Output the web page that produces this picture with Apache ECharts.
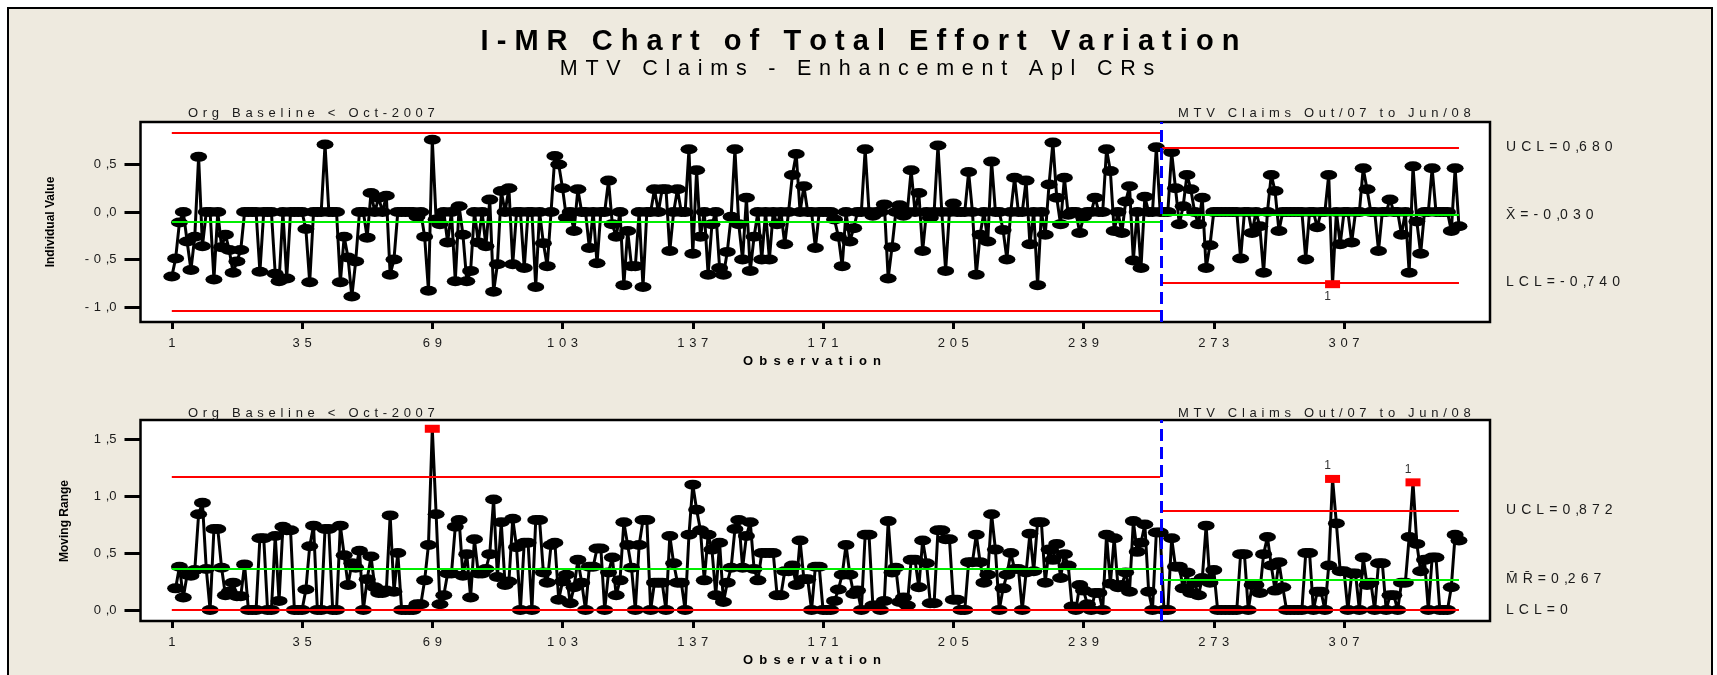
<!DOCTYPE html>
<html>
<head>
<meta charset="utf-8">
<script src="https://cdn.jsdelivr.net/npm/echarts@6/dist/echarts.min.js"></script>
<style>
  html, body { margin: 0; padding: 0; background: #ffffff; }
  #frame { position: absolute; left: 7px; top: 7px; width: 1702px; height: 680px;
           background: #eeeadf; border: 2px solid #000; }
  #chart { position: absolute; left: 0; top: 0; width: 1717px; height: 675px; }
</style>
</head>
<body>
<div id="frame"></div>
<div id="chart"></div>
<script>
// Individual observations, baseline stage (Org Baseline < Oct-2007)
const baselineValues = [
  -0.68, -0.49, -0.11, 0.00, -0.31, -0.61, -0.26, 0.58, -0.36, 0.00,
  0.00, -0.71, 0.00, -0.37, -0.24, -0.40, -0.64, -0.52, -0.40, 0.00,
  0.00, 0.00, 0.00, -0.63, 0.00, 0.00, 0.00, -0.65, -0.73, 0.00,
  -0.70, 0.00, 0.00, 0.00, 0.00, -0.18, -0.74, 0.00, 0.00, 0.00,
  0.71, 0.00, 0.00, 0.00, -0.74, -0.26, -0.48, -0.89, -0.52, 0.00,
  0.00, -0.27, 0.20, 0.00, 0.15, 0.00, 0.17, -0.66, -0.50, 0.00,
  0.00, 0.00, 0.00, 0.00, -0.05, 0.00, -0.26, -0.83, 0.76, -0.08,
  -0.13, 0.00, -0.32, 0.00, -0.73, 0.06, -0.24, -0.73, -0.62, 0.00,
  -0.32, 0.00, -0.36, 0.13, -0.84, -0.55, 0.22, 0.00, 0.25, -0.55,
  0.00, 0.00, -0.59, 0.00, 0.00, -0.79, 0.00, -0.33, -0.57, 0.00,
  0.59, 0.50, 0.25, -0.06, 0.00, -0.20, 0.24, 0.00, 0.00, -0.38,
  0.00, -0.54, 0.00, 0.00, 0.33, -0.13, -0.26, 0.00, -0.77, -0.20,
  -0.57, -0.57, 0.00, -0.79, 0.00, 0.00, 0.24, 0.00, 0.24, 0.24,
  -0.41, 0.00, 0.24, 0.00, 0.00, 0.66, -0.44, 0.44, -0.26, 0.00,
  -0.66, -0.13, 0.00, -0.59, -0.66, -0.42, -0.05, 0.66, -0.13, -0.50,
  0.15, -0.62, -0.26, 0.00, -0.50, 0.00, -0.50, 0.00, -0.13, 0.00,
  -0.34, 0.00, 0.39, 0.61, 0.00, 0.27, 0.00, 0.00, -0.38, 0.00,
  0.00, 0.00, 0.00, -0.08, -0.26, -0.57, 0.00, -0.31, -0.17, 0.00,
  0.00, 0.66, 0.00, -0.04, 0.00, 0.00, 0.08, -0.70, -0.37, 0.00,
  0.07, -0.04, 0.00, 0.44, 0.00, 0.20, -0.41, 0.00, -0.06, 0.00,
  0.70, 0.00, -0.62, 0.00, 0.09, 0.00, 0.00, 0.00, 0.42, 0.00,
  -0.66, -0.24, 0.00, -0.31, 0.53, 0.00, 0.00, -0.19, -0.50, 0.00,
  0.36, 0.00, 0.00, 0.33, -0.34, 0.00, -0.77, 0.00, -0.24, 0.29,
  0.73, 0.15, -0.13, 0.36, -0.03, 0.00, 0.00, -0.22, -0.05, 0.00,
  0.00, 0.15, 0.00, 0.00, 0.66, 0.43, -0.20, 0.00, -0.22, 0.11,
  0.27, -0.51, 0.00, -0.59, 0.16, 0.00, 0.00, 0.68, 0.00
];

// Individual observations, MTV Claims stage (Out/07 to Jun/08)
const claimsValues = [
  0.00, 0.00, 0.63, 0.25, -0.13, 0.06, 0.39, 0.24, 0.00, -0.13,
  0.15, -0.59, -0.35, 0.00, 0.00, 0.00, 0.00, 0.00, 0.00, 0.00,
  -0.49, 0.00, 0.00, -0.22, 0.00, -0.15, -0.64, 0.00, 0.39, 0.22,
  -0.20, 0.00, 0.00, 0.00, 0.00, 0.00, 0.00, -0.50, 0.00, 0.00,
  -0.16, 0.00, 0.00, 0.39, -0.76, 0.00, -0.34, 0.00, 0.00, -0.32,
  0.00, 0.00, 0.46, 0.24, 0.00, 0.00, -0.41, 0.00, 0.00, 0.13,
  0.00, 0.00, -0.24, 0.00, -0.64, 0.48, -0.10, -0.44, 0.00, 0.00,
  0.46, 0.00, 0.00, 0.00, 0.00, -0.20, 0.46, -0.15
];

const stageNames = ['Org Baseline < Oct-2007', 'MTV Claims Out/07 to Jun/08'];
const xTickValues = [1, 35, 69, 103, 137, 171, 205, 239, 273, 307];
const iTickValues = [-1.0, -0.5, 0.0, 0.5];
const mrTickValues = [0.0, 0.5, 1.0, 1.5];

// Control limits per stage: [UCL, centre line, LCL]
const baselineILimits = [0.835, -0.102, -1.039];
const claimsILimits = [0.680, -0.030, -0.740];
const baselineMRLimits = [1.167, 0.360, 0];
const claimsMRLimits = [0.872, 0.267, 0];

const FONT = '"Liberation Sans", Arial, "DejaVu Sans", sans-serif';
const TEXT = '#1a1a1a';

const individual = baselineValues.concat(claimsValues);
const stageBreak = baselineValues.length;          // last baseline observation
const lastObs = individual.length;
// moving range of consecutive individual values (first observation has none)
const movingRange = individual.map((v, i) => i === 0 ? null : Math.round(Math.abs(v - individual[i - 1]) * 100) / 100);

// spread characters out, keeping combining marks with their base letter
function spaced(text, gap) {
  const g = gap || ' ';
  const glyphs = text.match(/.\p{M}*/gu) || [];
  return glyphs.join(g).split(',' + g).join(',');
}
function dec(v, d) { return v.toFixed(d).replace('.', ','); }

const GAP_WIDE = ' \u2009';
const GAP_MID = ' \u200A';

const iLimits = [baselineILimits, claimsILimits];
const mrLimits = [baselineMRLimits, claimsMRLimits];

function markerData(values, limits, flagPos, axisMax) {
  const out = [];
  values.forEach((v, i) => {
    if (v === null) return;
    const obs = i + 1;
    const lim = limits[obs <= stageBreak ? 0 : 1];
    const flagged = v > lim[0] || v < lim[2];
    if (!flagged) { out.push([obs, v]); return; }
    const roomForLabel = flagPos === 'bottom' || v + 0.12 < axisMax - 0.05;
    out.push({
      value: [obs, v],
      symbol: 'rect',
      symbolSize: [15, 8],
      itemStyle: { color: '#ff0000' },
      label: { show: roomForLabel, formatter: '1', position: flagPos, distance: 3, offset: [-5, 0],
               color: '#333', fontSize: 12, fontFamily: FONT }
    });
  });
  return out;
}

function limitLines(limits, labels) {
  const ranges = [[1, stageBreak], [stageBreak + 0.5, lastObs]];
  const data = [];
  ranges.forEach((r, s) => {
    limits[s].forEach((val, k) => {
      const start = { coord: [r[0], val], lineStyle: { color: k === 1 ? '#00ee00' : '#ff0000' } };
      if (s === 1) {
        start.label = { show: true, position: 'end', distance: 47, formatter: () => labels[k],
                        color: TEXT, fontSize: 14, fontFamily: FONT };
      }
      data.push([start, { coord: [r[1], val] }]);
    });
  });
  return data;
}

const iLabels = [spaced('UCL=' + dec(claimsILimits[0], 3), GAP_MID),
                 spaced('X\u0304=' + dec(claimsILimits[1], 3), GAP_MID),
                 spaced('LCL=' + dec(claimsILimits[2], 3), GAP_MID)];
const mrLabels = [spaced('UCL=' + dec(claimsMRLimits[0], 3), GAP_MID),
                  spaced('M\u0304R\u0304=' + dec(claimsMRLimits[1], 3), GAP_MID),
                  spaced('LCL=' + dec(claimsMRLimits[2], 0), GAP_MID)];

const grids = [
  { left: 140.5, top: 122, width: 1349.5, height: 200 },
  { left: 140.5, top: 420, width: 1349.5, height: 201 }
];
const yRanges = [[-1.158, 0.947], [-0.0965, 1.667]];
const yTicks = [iTickValues, mrTickValues];

function stageText(x, y, text) {
  return { type: 'text', x: x, y: y, style: { text: spaced(text, GAP_MID), align: 'left',
           verticalAlign: 'middle', font: '13px ' + FONT, fill: TEXT } };
}

const option = {
  animation: false,
  grid: grids.map(g => Object.assign({ show: true, backgroundColor: '#ffffff',
                                       borderColor: '#000', borderWidth: 2.5 }, g)),
  xAxis: [0, 1].map(g => ({
    type: 'value', gridIndex: g, min: -7.17, max: 345.1,
    axisLine: { show: false, onZero: false }, splitLine: { show: false },
    axisTick: { show: true, customValues: xTickValues, length: 7, lineStyle: { color: '#000', width: 3 } },
    axisLabel: { show: true, customValues: xTickValues, formatter: v => spaced(String(v), GAP_MID),
                 margin: 15, color: TEXT, fontSize: 13, fontFamily: FONT }
  })),
  yAxis: [0, 1].map(g => ({
    type: 'value', gridIndex: g, min: yRanges[g][0], max: yRanges[g][1],
    axisLine: { show: false, onZero: false }, splitLine: { show: false },
    axisTick: { show: true, customValues: yTicks[g], length: 16, lineStyle: { color: '#000', width: 3 } },
    axisLabel: { show: true, customValues: yTicks[g], formatter: v => spaced(dec(v, 1), GAP_MID),
                 margin: 24, color: TEXT, fontSize: 13, fontFamily: FONT }
  })),
  series: [
    { type: 'line', xAxisIndex: 0, yAxisIndex: 0, data: [], z: 1, silent: true,
      markLine: { symbol: ['none', 'none'], silent: true, animation: false,
                  lineStyle: { width: 2, type: 'solid' }, label: { show: false },
                  data: limitLines(iLimits, iLabels) } },
    { type: 'line', xAxisIndex: 1, yAxisIndex: 1, data: [], z: 1, silent: true,
      markLine: { symbol: ['none', 'none'], silent: true, animation: false,
                  lineStyle: { width: 2, type: 'solid' }, label: { show: false },
                  data: limitLines(mrLimits, mrLabels) } },
    { name: 'Individual Value', type: 'line', xAxisIndex: 0, yAxisIndex: 0, z: 3,
      data: markerData(individual, iLimits, 'bottom', yRanges[0][1]),
      symbol: 'circle', symbolSize: [17, 10], showAllSymbol: true, clip: false,
      itemStyle: { color: '#000' }, lineStyle: { color: '#000', width: 3 } },
    { name: 'Moving Range', type: 'line', xAxisIndex: 1, yAxisIndex: 1, z: 3,
      data: markerData(movingRange, mrLimits, 'top', yRanges[1][1]),
      symbol: 'circle', symbolSize: [17, 10], showAllSymbol: true, clip: false,
      itemStyle: { color: '#000' }, lineStyle: { color: '#000', width: 3 } },
    // stage boundary
    ...[0, 1].map(g => ({
      type: 'line', xAxisIndex: g, yAxisIndex: g, data: [], z: 6, silent: true,
      markLine: { symbol: ['none', 'none'], silent: true, animation: false, label: { show: false },
                  lineStyle: { color: '#0000ff', width: 3, type: [12, 6] },
                  data: [{ xAxis: stageBreak + 0.2 }] }
    }))
  ],
  graphic: [
    { type: 'text', x: 860, y: 41.5, style: { text: spaced('I-MR Chart of Total Effort Variation'),
      align: 'center', verticalAlign: 'middle', font: 'bold 29px ' + FONT, fill: '#000' } },
    { type: 'text', x: 857, y: 69, style: { text: spaced('MTV Claims - Enhancement Apl CRs', GAP_MID),
      align: 'center', verticalAlign: 'middle', font: '21.5px ' + FONT, fill: '#000' } },
    stageText(188, 113, stageNames[0]),
    stageText(1178, 113, stageNames[1]),
    stageText(188, 413, stageNames[0]),
    stageText(1178, 413, stageNames[1]),
    { type: 'text', x: 812, y: 361, style: { text: spaced('Observation', GAP_WIDE), align: 'center',
      verticalAlign: 'middle', font: 'bold 13px ' + FONT, fill: '#000' } },
    { type: 'text', x: 812, y: 660, style: { text: spaced('Observation', GAP_WIDE), align: 'center',
      verticalAlign: 'middle', font: 'bold 13px ' + FONT, fill: '#000' } },
    { type: 'text', x: 51, y: 222, rotation: Math.PI / 2, style: { text: 'Individual Value',
      align: 'center', verticalAlign: 'middle', font: 'bold 12px ' + FONT, fill: '#000' } },
    { type: 'text', x: 65, y: 521, rotation: Math.PI / 2, style: { text: 'Moving Range',
      align: 'center', verticalAlign: 'middle', font: 'bold 12px ' + FONT, fill: '#000' } }
  ]
};

const chart = echarts.init(document.getElementById('chart'), null, { renderer: 'canvas' });
chart.setOption(option);
</script>
</body>
</html>
